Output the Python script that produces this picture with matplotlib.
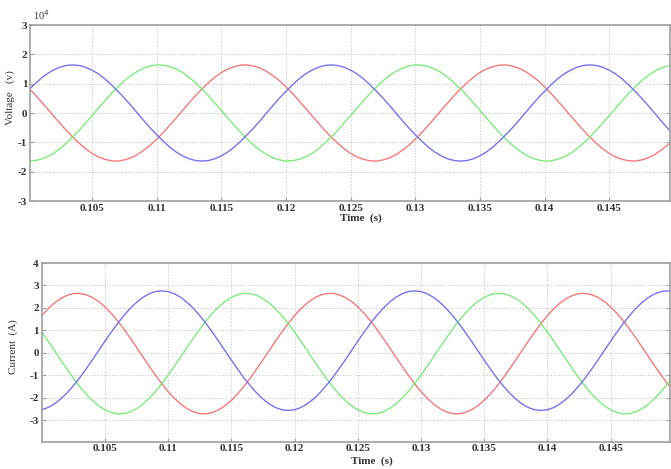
import matplotlib
matplotlib.use("Agg")
import matplotlib.pyplot as plt
import numpy as np

# sample times (s), 0.5 ms step from 0.100 to 0.150
time_s = [round(0.100 + 0.0005 * j, 4) for j in range(101)]

# Voltage (x 1e4 V)
volt_blue = [0.74, 0.96, 1.16, 1.33, 1.46, 1.56, 1.62,
             1.64, 1.62, 1.56, 1.46, 1.33, 1.16, 0.96, 0.74, 0.51, 0.26, 0, -0.26, -0.51, -0.74, -0.96, -1.16, -1.33, -1.46, -1.56, -1.62,
             -1.64, -1.62, -1.56, -1.46, -1.33, -1.16, -0.96, -0.74, -0.51, -0.26, 0, 0.26, 0.51, 0.74, 0.96, 1.16, 1.33, 1.46, 1.56, 1.62,
             1.64, 1.62, 1.56, 1.46, 1.33, 1.16, 0.96, 0.74, 0.51, 0.26, 0, -0.26, -0.51, -0.74, -0.96, -1.16, -1.33, -1.46, -1.56, -1.62,
             -1.64, -1.62, -1.56, -1.46, -1.33, -1.16, -0.96, -0.74, -0.51, -0.26, 0, 0.26, 0.51, 0.74, 0.96, 1.16, 1.33, 1.46, 1.56, 1.62,
             1.64, 1.62, 1.56, 1.46, 1.33, 1.16, 0.96, 0.74, 0.51, 0.26, 0, -0.26, -0.51, -0.74]
volt_green = [-1.64, -1.63, -1.58, -1.50, -1.38, -1.22, -1.03, -0.82, -0.59, -0.34, -0.09, 0.17, 0.42, 0.67, 0.89, 1.10, 1.27, 1.42, 1.53, 1.60, 1.64,
              1.63, 1.58, 1.50, 1.38, 1.22, 1.03, 0.82, 0.59, 0.34, 0.09, -0.17, -0.42, -0.67, -0.89, -1.10, -1.27, -1.42, -1.53, -1.60, -1.64,
              -1.63, -1.58, -1.50, -1.38, -1.22, -1.03, -0.82, -0.59, -0.34, -0.09, 0.17, 0.42, 0.67, 0.89, 1.10, 1.27, 1.42, 1.53, 1.60, 1.64,
              1.63, 1.58, 1.50, 1.38, 1.22, 1.03, 0.82, 0.59, 0.34, 0.09, -0.17, -0.42, -0.67, -0.89, -1.10, -1.27, -1.42, -1.53, -1.60, -1.64,
              -1.63, -1.58, -1.50, -1.38, -1.22, -1.03, -0.82, -0.59, -0.34, -0.09, 0.17, 0.42, 0.67, 0.89, 1.10, 1.27, 1.42, 1.53, 1.60, 1.64]
volt_red = [0.89, 0.67, 0.42, 0.17, -0.09, -0.34, -0.59, -0.82, -1.03, -1.22, -1.38, -1.50, -1.58, -1.63,
            -1.64, -1.60, -1.53, -1.42, -1.27, -1.10, -0.89, -0.67, -0.42, -0.17, 0.09, 0.34, 0.59, 0.82, 1.03, 1.22, 1.38, 1.50, 1.58, 1.63,
            1.64, 1.60, 1.53, 1.42, 1.27, 1.10, 0.89, 0.67, 0.42, 0.17, -0.09, -0.34, -0.59, -0.82, -1.03, -1.22, -1.38, -1.50, -1.58, -1.63,
            -1.64, -1.60, -1.53, -1.42, -1.27, -1.10, -0.89, -0.67, -0.42, -0.17, 0.09, 0.34, 0.59, 0.82, 1.03, 1.22, 1.38, 1.50, 1.58, 1.63,
            1.64, 1.60, 1.53, 1.42, 1.27, 1.10, 0.89, 0.67, 0.42, 0.17, -0.09, -0.34, -0.59, -0.82, -1.03, -1.22, -1.38, -1.50, -1.58, -1.63,
            -1.64, -1.60, -1.53, -1.42, -1.27, -1.10, -0.89]

# Current (A)
curr_blue = [-2.53, -2.43, -2.27, -2.05, -1.78, -1.46, -1.11, -0.72, -0.32, 0.10, 0.52, 0.92, 1.31, 1.66, 1.98, 2.25, 2.47, 2.63, 2.73,
             2.76, 2.73, 2.63, 2.47, 2.25, 1.98, 1.66, 1.31, 0.92, 0.52, 0.10, -0.32, -0.72, -1.11, -1.46, -1.78, -2.05, -2.27, -2.43, -2.53,
             -2.56, -2.53, -2.43, -2.27, -2.05, -1.78, -1.46, -1.11, -0.72, -0.32, 0.10, 0.52, 0.92, 1.31, 1.66, 1.98, 2.25, 2.47, 2.63, 2.73,
             2.76, 2.73, 2.63, 2.47, 2.25, 1.98, 1.66, 1.31, 0.92, 0.52, 0.10, -0.32, -0.72, -1.11, -1.46, -1.78, -2.05, -2.27, -2.43, -2.53,
             -2.56, -2.53, -2.43, -2.27, -2.05, -1.78, -1.46, -1.11, -0.72, -0.32, 0.10, 0.52, 0.92, 1.31, 1.66, 1.98, 2.25, 2.47, 2.63, 2.73,
             2.76, 2.73]
curr_green = [0.93, 0.53, 0.11, -0.31, -0.72, -1.12, -1.49, -1.82, -2.11, -2.35, -2.53, -2.65, -2.71,
              -2.70, -2.62, -2.48, -2.28, -2.02, -1.72, -1.37, -0.99, -0.59, -0.17, 0.25, 0.66, 1.06, 1.43, 1.76, 2.05, 2.29, 2.47, 2.59, 2.65,
              2.64, 2.56, 2.42, 2.22, 1.96, 1.66, 1.31, 0.93, 0.53, 0.11, -0.31, -0.72, -1.12, -1.49, -1.82, -2.11, -2.35, -2.53, -2.65, -2.71,
              -2.70, -2.62, -2.48, -2.28, -2.02, -1.72, -1.37, -0.99, -0.59, -0.17, 0.25, 0.66, 1.06, 1.43, 1.76, 2.05, 2.29, 2.47, 2.59, 2.65,
              2.64, 2.56, 2.42, 2.22, 1.96, 1.66, 1.31, 0.93, 0.53, 0.11, -0.31, -0.72, -1.12, -1.49, -1.82, -2.11, -2.35, -2.53, -2.65, -2.71,
              -2.70, -2.62, -2.48, -2.28, -2.02, -1.72, -1.37, -0.99]
curr_red = [1.66, 1.96, 2.22, 2.42, 2.56, 2.64,
            2.65, 2.59, 2.47, 2.29, 2.05, 1.76, 1.43, 1.06, 0.66, 0.25, -0.17, -0.59, -0.99, -1.37, -1.72, -2.02, -2.28, -2.48, -2.62, -2.70,
            -2.71, -2.65, -2.53, -2.35, -2.11, -1.82, -1.49, -1.12, -0.72, -0.31, 0.11, 0.53, 0.93, 1.31, 1.66, 1.96, 2.22, 2.42, 2.56, 2.64,
            2.65, 2.59, 2.47, 2.29, 2.05, 1.76, 1.43, 1.06, 0.66, 0.25, -0.17, -0.59, -0.99, -1.37, -1.72, -2.02, -2.28, -2.48, -2.62, -2.70,
            -2.71, -2.65, -2.53, -2.35, -2.11, -1.82, -1.49, -1.12, -0.72, -0.31, 0.11, 0.53, 0.93, 1.31, 1.66, 1.96, 2.22, 2.42, 2.56, 2.64,
            2.65, 2.59, 2.47, 2.29, 2.05, 1.76, 1.43, 1.06, 0.66, 0.25, -0.17, -0.59, -0.99, -1.37, -1.72]

xticks = [0.105, 0.11, 0.115, 0.12, 0.125, 0.13, 0.135, 0.14, 0.145]
xtick_labels = ["0.105", "0.11", "0.115", "0.12", "0.125", "0.13", "0.135", "0.14", "0.145"]
v_ticks = [-3, -2, -1, 0, 1, 2, 3]
i_ticks = [-3, -2, -1, 0, 1, 2, 3, 4]

RED = "#f27a7a"
GREEN = "#7fea7f"
BLUE = "#7474ee"
SPINE = "#a0a0a0"
TXT = "#333333"
SERIF = ["Liberation Serif", "DejaVu Serif"]

fig = plt.figure(figsize=(6.71, 4.69), dpi=100)
ax1 = fig.add_axes([30/671, 1-201/469, 640/671, 176/469])
ax2 = fig.add_axes([41.7/671, 1-441.7/469, 628.3/671, 178.7/469])

def style(ax):
    for s in ax.spines.values():
        s.set_color(SPINE)
        s.set_linewidth(1.2)
    ax.grid(True, color="#c8c8c8", linestyle=(0, (1, 1.5)), linewidth=0.8)
    ax.set_axisbelow(True)
    ax.tick_params(direction="in", length=3, color=SPINE, labelsize=8,
                   labelcolor=TXT, right=True, top=False, pad=2)
    for lbl in ax.get_xticklabels() + ax.get_yticklabels():
        lbl.set_fontfamily(SERIF)
        lbl.set_fontweight("bold")

t = np.array(time_s)
ax1.plot(t, volt_red, color=RED, lw=1.0)
ax1.plot(t, volt_green, color=GREEN, lw=1.0)
ax1.plot(t, volt_blue, color=BLUE, lw=1.0)
ax1.set_xlim(0.1002, 0.1497)
ax1.set_ylim(-3, 3)
ax1.set_xticks(xticks, xtick_labels)
ax1.set_yticks(v_ticks, [str(v) for v in v_ticks])
style(ax1)
ax1.set_xlabel("Time  (s)", fontsize=8, fontweight="bold", family=SERIF, color=TXT)
ax1.xaxis.set_label_coords(0.517, -0.068)
ax1.set_ylabel("Voltage   (v)", fontsize=8, family=SERIF, color=TXT)
ax1.yaxis.set_label_coords(-0.0235, 0.585)
ax1.text(0.005, 1.015, r"10$^{4}$", transform=ax1.transAxes, fontsize=7.5,
         family=SERIF, color=TXT, va="bottom", ha="left")

ax2.plot(t, curr_red, color=RED, lw=1.0)
ax2.plot(t, curr_green, color=GREEN, lw=1.0)
ax2.plot(t, curr_blue, color=BLUE, lw=1.0)
ax2.set_xlim(0.1, 0.1497)
ax2.set_ylim(-3.95, 4.0)
ax2.set_xticks(xticks, xtick_labels)
ax2.set_yticks(i_ticks, [str(v) for v in i_ticks])
style(ax2)
ax2.set_xlabel("Time  (s)", fontsize=8, fontweight="bold", family=SERIF, color=TXT)
ax2.xaxis.set_label_coords(0.525, -0.085)
ax2.set_ylabel("Current  (A)", fontsize=8, family=SERIF, color=TXT)
ax2.yaxis.set_label_coords(-0.037, 0.53)

fig.savefig("out.png", dpi=100)
